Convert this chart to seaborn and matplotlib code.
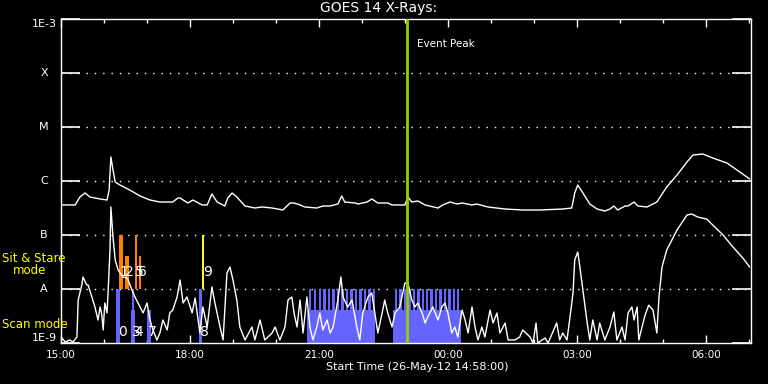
import numpy as np
import pandas as pd
import matplotlib
matplotlib.use("Agg")
import matplotlib.pyplot as plt
import matplotlib.transforms as mtransforms
import seaborn as sns

# time in hours after 15:00 UT, flux as log10(W/m^2)
long_t = [0.0, 0.33, 0.44, 0.56, 0.67, 0.91, 1.07, 1.12, 1.16, 1.21, 1.26, 1.37, 1.60, 1.84,
          2.07, 2.30, 2.60, 2.72, 2.77, 2.95, 3.07, 3.28, 3.40, 3.51, 3.63, 3.81, 3.88, 3.98,
          4.09, 4.28, 4.51, 4.67, 4.91, 5.16, 5.33, 5.42, 5.56, 5.67, 5.95, 6.09, 6.26, 6.44,
          6.53, 6.60, 6.84, 6.91, 7.12, 7.23, 7.37, 7.60, 7.70, 8.00, 8.07, 8.16, 8.30, 8.47,
          8.77, 8.88, 9.05, 9.21, 9.33, 9.56, 9.67, 9.93, 10.33, 10.74, 11.14, 11.67, 11.88,
          11.95, 12.02, 12.14, 12.30, 12.47, 12.65, 12.77, 12.86, 12.95, 13.12, 13.19, 13.33,
          13.42, 13.63, 13.86, 14.09, 14.33, 14.56, 14.70, 14.93, 15.16, 15.49, 15.79, 16.02]
long_log = [-6.444, -6.444, -6.296, -6.222, -6.296, -6.333, -6.352, -6.167, -5.556, -5.796,
            -6.019, -6.074, -6.167, -6.278, -6.352, -6.389, -6.389, -6.315, -6.315, -6.407,
            -6.352, -6.444, -6.444, -6.241, -6.389, -6.463, -6.315, -6.222, -6.296, -6.463,
            -6.5, -6.481, -6.5, -6.537, -6.407, -6.407, -6.444, -6.481, -6.5, -6.463, -6.463,
            -6.426, -6.278, -6.389, -6.407, -6.426, -6.389, -6.333, -6.407, -6.407, -6.444,
            -6.444, -6.296, -6.389, -6.370, -6.444, -6.5, -6.444, -6.389, -6.426, -6.407,
            -6.444, -6.426, -6.481, -6.519, -6.537, -6.537, -6.519, -6.5, -6.222, -6.074,
            -6.222, -6.426, -6.519, -6.556, -6.519, -6.463, -6.537, -6.463, -6.463, -6.389,
            -6.463, -6.481, -6.389, -6.111, -5.889, -5.648, -5.519, -5.5, -5.574, -5.667,
            -5.833, -5.963]

short_t = [0.0, 0.02, 0.1, 0.2, 0.28, 0.37, 0.40, 0.49, 0.51, 0.60, 0.63, 0.72, 0.74, 0.79,
           0.86, 0.91, 0.95, 0.98, 1.02, 1.07, 1.09, 1.14, 1.16, 1.21, 1.26, 1.33, 1.44, 1.53,
           1.56, 1.65, 1.72, 1.84, 1.91, 2.00, 2.07, 2.14, 2.23, 2.30, 2.37, 2.47, 2.53, 2.60,
           2.70, 2.77, 2.84, 2.93, 3.05, 3.12, 3.23, 3.30, 3.40, 3.51, 3.58, 3.70, 3.77, 3.86,
           3.93, 4.00, 4.09, 4.16, 4.28, 4.44, 4.51, 4.63, 4.74, 4.91, 4.98, 5.09, 5.21, 5.28,
           5.37, 5.42, 5.49, 5.56, 5.63, 5.72, 5.79, 5.86, 5.95, 6.02, 6.09, 6.19, 6.26, 6.33,
           6.44, 6.51, 6.56, 6.67, 6.77, 6.88, 6.95, 7.02, 7.14, 7.23, 7.30, 7.37, 7.47, 7.53,
           7.60, 7.70, 7.77, 7.88, 8.00, 8.07, 8.16, 8.23, 8.30, 8.40, 8.47, 8.53, 8.65, 8.77,
           8.86, 8.93, 9.00, 9.09, 9.16, 9.23, 9.33, 9.40, 9.47, 9.56, 9.63, 9.70, 9.79, 9.86,
           9.98, 10.05, 10.14, 10.21, 10.33, 10.40, 10.56, 10.67, 10.74, 10.91, 10.98, 11.05,
           11.09, 11.26, 11.33, 11.53, 11.60, 11.67, 11.77, 11.84, 11.91, 11.95, 12.02, 12.07,
           12.14, 12.23, 12.30, 12.37, 12.47, 12.53, 12.65, 12.77, 12.86, 12.93, 13.05, 13.12,
           13.19, 13.28, 13.33, 13.40, 13.44, 13.58, 13.67, 13.77, 13.86, 13.91, 13.98, 14.09,
           14.33, 14.56, 14.67, 14.81, 15.02, 15.16, 15.40, 15.63, 15.86, 16.02]
short_log = [-8.944, -8.907, -8.981, -8.944, -8.981, -8.889, -8.204, -7.907, -7.778, -7.926,
             -7.926, -8.148, -8.204, -8.333, -8.574, -8.333, -8.481, -8.759, -8.259, -8.444,
             -8.148, -7.278, -6.481, -7.037, -7.463, -7.648, -7.778, -7.796, -7.833, -8.019,
             -8.148, -8.333, -8.444, -8.259, -8.574, -8.759, -8.944, -8.815, -8.574, -8.759,
             -8.444, -8.389, -8.148, -7.833, -8.259, -8.148, -8.444, -8.167, -8.815, -8.333,
             -8.704, -7.963, -8.259, -8.704, -8.944, -7.704, -7.593, -7.833, -8.204, -8.704,
             -8.944, -8.704, -8.944, -8.574, -8.944, -8.815, -8.704, -8.944, -8.704, -8.204,
             -8.148, -8.444, -8.704, -8.204, -8.815, -8.148, -8.704, -8.944, -8.704, -8.444,
             -8.759, -8.574, -8.815, -8.704, -8.204, -7.778, -8.148, -8.333, -8.204, -8.704,
             -8.944, -8.444, -8.148, -8.074, -8.444, -8.815, -8.444, -8.204, -8.444, -8.704,
             -8.444, -8.333, -7.889, -7.889, -8.204, -8.333, -8.259, -8.444, -8.630, -8.519,
             -8.333, -8.574, -8.333, -8.259, -8.444, -8.815, -8.704, -8.889, -8.389, -8.574,
             -8.815, -8.333, -8.704, -8.944, -8.704, -8.889, -8.389, -8.630, -8.444, -8.815,
             -8.630, -8.944, -8.944, -8.889, -8.759, -8.889, -9.0, -8.630, -9.0, -8.907, -9.0,
             -8.630, -8.944, -8.815, -8.944, -8.519, -8.074, -7.463, -7.315, -7.593, -8.019,
             -8.574, -8.944, -8.574, -8.944, -8.630, -8.944, -8.704, -8.426, -8.944, -8.704,
             -8.944, -8.444, -8.333, -8.574, -8.333, -8.944, -8.5, -8.3, -8.389, -8.815,
             -8.148, -7.593, -7.278, -6.907, -6.630, -6.611, -6.667, -6.704, -6.815, -7.0,
             -7.222, -7.426, -7.593]

# observation bars: start hour, end hour
scan_full = [(1.28, 1.37), (1.66, 1.69), (3.21, 3.28)]
scan_part = [(1.63, 1.72), (2.00, 2.09), (5.72, 7.30), (7.73, 9.30)]
raster_starts = [5.77, 5.88, 5.99, 6.10, 6.20, 6.31, 6.41, 6.52, 6.62, 6.73, 6.83, 6.94, 7.04,
                 7.15, 7.25, 7.77, 7.87, 7.98, 8.08, 8.18, 8.29, 8.39, 8.49, 8.59, 8.70, 8.80,
                 8.90, 9.01, 9.11, 9.21]
raster_width = 0.053
sit_full = [(1.35, 1.44), (1.72, 1.77)]
sit_part = [(1.49, 1.58), (1.81, 1.86)]
sit_yellow = [(3.28, 3.33)]

# number labels: text, hour of left edge, row (0 = scan, 1 = sit & stare)
obs_labels = ["0", "1", "2", "3", "4", "5", "6", "7", "8", "9"]
obs_label_t = [1.33, 1.37, 1.49, 1.64, 1.71, 1.72, 1.80, 2.02, 3.23, 3.31]
obs_label_row = [0, 1, 1, 0, 0, 1, 1, 0, 0, 1]

event_peak = 8.05
class_levels = [1e-3, 1e-4, 1e-5, 1e-6, 1e-7, 1e-8, 1e-9]
class_names = ["1E-3", "X", "M", "C", "B", "A", "1E-9"]
hour_ticks = [0, 3, 6, 9, 12, 15]
hour_labels = ["15:00", "18:00", "21:00", "00:00", "03:00", "06:00"]

sns.set_theme(style="dark", rc={"axes.facecolor": "black", "figure.facecolor": "black",
                                "axes.edgecolor": "white", "text.color": "white",
                                "xtick.color": "white", "ytick.color": "white"})
plt.rcParams["font.family"] = ["DejaVu Sans"]

BLUE = "#6464ff"
ORANGE = "#ff8000"
YELLOW = "#ffff00"
GREEN = "#99cc00"
part_scan_top = 10 ** -8.39
part_sit_top = 10 ** -7.39

fig = plt.figure(figsize=(7.68, 3.84), dpi=100)
ax = fig.add_axes([61 / 768, 1 - 343 / 384, 690 / 768, 324 / 384])
ax.set_yscale("log")

def draw_bars(spans, bottom, top, color):
    lefts = [a for a, b in spans]
    widths = [b - a for a, b in spans]
    ax.bar(lefts, [top - bottom] * len(spans), width=widths, bottom=bottom,
           align="edge", color=color, linewidth=0, zorder=2)

draw_bars(scan_part, 1e-9, part_scan_top, BLUE)
draw_bars(scan_full, 1e-9, 1e-8, BLUE)
draw_bars([(s, s + raster_width) for s in raster_starts], 1e-9, 1e-8, BLUE)
draw_bars(sit_part, 1e-8, part_sit_top, ORANGE)
draw_bars(sit_full, 1e-8, 1e-7, ORANGE)
draw_bars(sit_yellow, 1e-8, 1e-7, YELLOW)

# dotted class level lines
for lvl in class_levels[1:-1]:
    ax.axhline(lvl, color="white", lw=1, ls=(0, (1, 5)), zorder=1)

df_long = pd.DataFrame({"t": long_t, "flux": 10 ** np.array(long_log)})
df_short = pd.DataFrame({"t": short_t, "flux": 10 ** np.array(short_log)})
sns.lineplot(data=df_long, x="t", y="flux", color="white", lw=1, estimator=None, ax=ax, zorder=3)
sns.lineplot(data=df_short, x="t", y="flux", color="white", lw=1, estimator=None, ax=ax, zorder=3)

for txt, t, row in zip(obs_labels, obs_label_t, obs_label_row):
    y = 10 ** -8.8 if row == 0 else 10 ** -7.69
    ax.text(t, y, txt, color="white", fontsize=10, ha="left", va="center", zorder=4)

ax.axvline(event_peak, color=GREEN, lw=2, zorder=5)
ax.text(event_peak + 0.23, 10 ** -3.46, "Event Peak", color="white", fontsize=7.5,
        ha="left", va="center")

ax.set_xlim(0, 16.05)
ax.set_ylim(1e-9, 1e-3)
ax.set_xlabel("")
ax.set_ylabel("")
ax.set_xticks(hour_ticks)
ax.set_xticklabels(hour_labels, fontsize=7.5)
ax.set_xticks([h for h in range(17) if h % 3 != 0], minor=True)
ax.tick_params(axis="x", which="major", direction="in", length=6, width=1, top=True,
               bottom=True, pad=5)
ax.tick_params(axis="x", which="minor", direction="in", length=3, width=1, top=True,
               bottom=True)
ax.set_yticks(class_levels)
ax.set_yticklabels([])
ax.yaxis.set_minor_locator(matplotlib.ticker.NullLocator())
ax.tick_params(axis="y", which="major", direction="in", length=14, width=1.2, left=True,
               right=True)
for sp in ax.spines.values():
    sp.set_color("white")
    sp.set_linewidth(1)
ax.grid(False)

trans = mtransforms.blended_transform_factory(ax.transAxes, ax.transData)
for lvl, name in zip(class_levels, class_names):
    if name == "1E-3":
        ax.text(-0.006, lvl, name, transform=trans, ha="right", va="top", fontsize=8)
    elif name == "1E-9":
        ax.text(-0.006, lvl, name, transform=trans, ha="right", va="bottom", fontsize=8)
    else:
        ax.text(-0.0246, lvl, name, transform=trans, ha="center", va="center", fontsize=8)

fig.text(2 / 768, 1 - 259 / 384, "Sit & Stare", color=YELLOW, fontsize=8.5, ha="left", va="center")
fig.text(13 / 768, 1 - 271 / 384, "mode", color=YELLOW, fontsize=8.5, ha="left", va="center")
fig.text(2 / 768, 1 - 324 / 384, "Scan mode", color=YELLOW, fontsize=8.5, ha="left", va="center")

fig.text(379 / 768, 1 - 8 / 384, "GOES 14 X-Rays:", fontsize=10, ha="center", va="center")
fig.text(417 / 768, 1 - 367 / 384, "Start Time (26-May-12 14:58:00)", fontsize=8,
         ha="center", va="center")

fig.savefig("out.png", dpi=100, facecolor="black")
